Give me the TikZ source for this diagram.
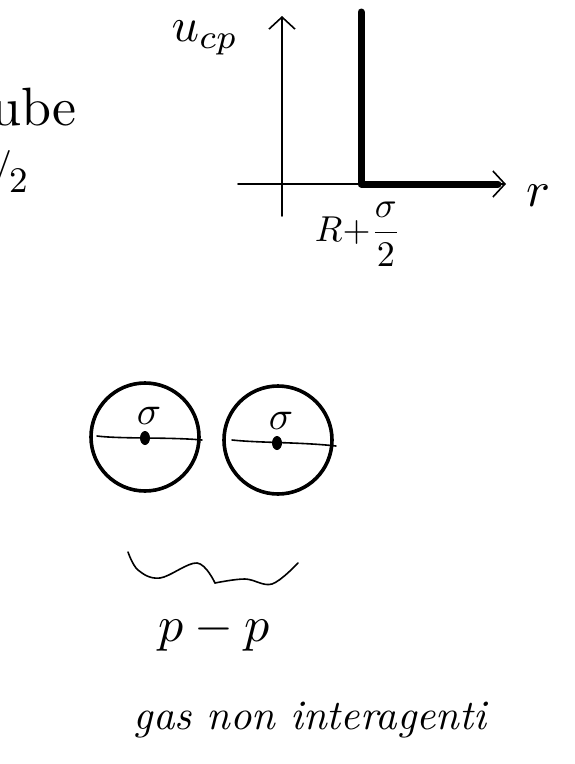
\documentclass[tikz,border=0pt]{standalone}
\usetikzlibrary{arrows.meta}
\begin{document}
\begin{tikzpicture}[x=1pt,y=-1pt,line cap=round,line join=round,
  thinline/.style={line width=1.6pt},
  heavyline/.style={line width=7pt},
  ball/.style={circle,draw,line width=3.6pt,minimum size=108pt,inner sep=0pt},
  barb/.style={-{Straight Barb[length=12pt,width=26pt,line width=1.6pt]}},
  lbl/.style={inner sep=0pt,outer sep=0pt}]
\useasboundingbox (0,0) rectangle (575,764);
\clip (0,0) rectangle (575,764);
% cropped fragments at the left edge
\node[lbl,anchor=south west,scale=5.4] (frag1) at (-9,126) {ube};
\node[lbl,anchor=base west,scale=4] (frag2) at (-8,180) {/\kern-0.05em\raisebox{-0.7ex}{\small 2}};
% graph
\coordinate (yb) at (282,216);
\coordinate (yt) at (282,16);
\coordinate (xl) at (238,184);
\coordinate (xr) at (506,184);
\coordinate (jt) at (361,12);
\coordinate (jc) at (361,184);
\coordinate (je) at (498,184);
\draw[thinline,barb] (yb) -- (yt);
\draw[thinline,barb] (xl) -- (xr);
\draw[heavyline] (jt) -- (jc) -- (je);
\node[lbl,scale=4.8] (ucp) at (205,38) {$u_{cp}$};
\node[lbl,scale=5] (rlab) at (538,196) {$r$};
\node[lbl,scale=3.6] (rsig) at (358,234) {$\displaystyle R{+}\frac{\sigma}{2}$};
% spheres
\node[ball] (c1) at (145,437) {};
\node[ball] (c2) at (278,440) {};
\draw[thinline] (97,436) .. controls (120,439) and (170,437) .. (202,440);
\draw[thinline] (232,440) .. controls (260,443) and (300,442) .. (336,446);
\fill (145,438) ellipse (5pt and 7pt);
\fill (277,443) ellipse (5pt and 7pt);
\node[lbl,scale=4] (s1) at (149,416) {$\sigma$};
\node[lbl,scale=4] (s2) at (281,421) {$\sigma$};
% brace
\draw[thinline] plot[smooth,tension=0.6] coordinates {(128,552) (138,570) (160,578) (197,563) (215,583)};
\draw[thinline] plot[smooth,tension=0.6] coordinates {(215,583) (245,579) (272,584) (298,563)};
\node[lbl,scale=5] (pp) at (214,632) {$p-p$};
\node[lbl,scale=4.2] (gas) at (310,720) {\itshape gas non interagenti};
\end{tikzpicture}
\end{document}
